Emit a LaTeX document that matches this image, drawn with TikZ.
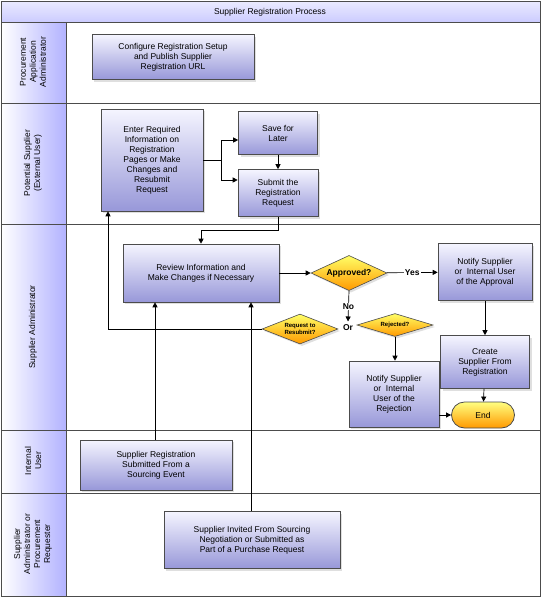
\documentclass[tikz,border=0pt]{standalone}
\usepackage{fontspec}
\setmainfont{Liberation Sans}
\usetikzlibrary{shapes.geometric,arrows.meta,shadows}

\tikzset{
  task/.style={draw=black!70, line width=0.6pt, top color=blue!4, bottom color=blue!30!white!85!black,
    align=center, font=\fontsize{8.5}{10}\selectfont, inner sep=1pt, drop shadow={opacity=0.25,shadow xshift=2pt,shadow yshift=-2pt}},
  decide/.style={diamond, draw=black!70, line width=0.6pt, top color=yellow!60, bottom color=orange!80!yellow,
    align=center, aspect=1.65, inner sep=0pt, drop shadow={opacity=0.25,shadow xshift=2pt,shadow yshift=-2pt}},
  flow/.style={-{Triangle[length=5pt,width=5pt]}, line width=0.7pt},
  lanehead/.style={draw=black!70, line width=0.6pt, left color=white, right color=blue!30},
  lanetext/.style={rotate=90, align=center, font=\fontsize{8.5}{10}\selectfont}
}

\begin{document}
\begin{tikzpicture}[x=1pt,y=-1pt]
\useasboundingbox (0,0) rectangle (542,598);
% lanes
\draw[line width=0.8pt, black!70] (1,1) rectangle (540,596);
\shade[top color=blue!8, bottom color=blue!20, draw=black!70] (1,1) rectangle (540,22);
\node[font=\fontsize{8.5}{10}\selectfont] (title) at (270,12) {Supplier Registration Process};
\foreach \ya/\yb in {22/103, 103/224, 224/430, 430/493, 493/596}{
  \draw[lanehead] (1,\ya) rectangle (66,\yb);
  \draw[black!70, line width=0.6pt] (66,\yb) -- (540,\yb);
}
\node[lanetext] (l1) at (33,62) {Procurement\\Application\\Administrator};
\node[lanetext] (l2) at (33,163) {Potential Supplier\\(External User)};
\node[lanetext] (l3) at (33,327) {Supplier Administrator};
\node[lanetext] (l4) at (33,461) {Internal\\User};
\node[lanetext] (l5) at (33,544) {Supplier\\Administrator or\\Procurement\\Requester};

% tasks
\node[task, minimum width=162pt, minimum height=45pt] (config) at (173,57) {Configure Registration Setup\\and Publish Supplier\\Registration URL};
\node[task, minimum width=102pt, minimum height=102pt] (enter) at (152,160) {Enter Required\\Information on\\Registration\\Pages or Make\\Changes and\\Resubmit\\Request};
\node[task, minimum width=79pt, minimum height=43pt] (save) at (278,133) {Save for\\Later};
\node[task, minimum width=80pt, minimum height=47pt] (submit) at (278,193) {Submit the\\Registration\\Request};
\node[task, minimum width=156pt, minimum height=58pt] (review) at (201,273) {Review Information and\\Make Changes if Necessary};
\node[decide, minimum width=76pt, font=\fontsize{8.5}{10}\selectfont\bfseries] (approved) at (349,273) {Approved?};
\node[task, minimum width=94pt, minimum height=57pt] (notifyok) at (485,272) {Notify Supplier\\or\ \ Internal User\\of the Approval};
\node[decide, minimum width=76pt, font=\fontsize{6}{7}\selectfont\bfseries] (resub) at (300,329) {Request to\\Resubmit?};
\node[font=\fontsize{8.5}{10}\selectfont\bfseries] (or) at (348,328) {Or};
\node[decide, minimum width=76pt, font=\fontsize{6}{7}\selectfont\bfseries] (rejected) at (395,325) {Rejected?};
\node[task, minimum width=90pt, minimum height=66pt] (notifyno) at (394,394) {Notify Supplier\\or\ \ Internal\\User of the\\Rejection};
\node[task, minimum width=89pt, minimum height=53pt] (create) at (485,362) {Create\\Supplier From\\Registration};
\node[draw=black!70, line width=0.8pt, rounded corners=13pt, top color=yellow!50, bottom color=orange!80!yellow,
  minimum width=63pt, minimum height=26pt, font=\fontsize{8.5}{10}\selectfont] (finish) at (483,415) {End};
\node[task, minimum width=152pt, minimum height=50pt] (sourcing) at (156,465) {Supplier Registration\\Submitted From a\\Sourcing Event};
\node[task, minimum width=176pt, minimum height=57pt] (invited) at (252,540) {Supplier Invited From Sourcing\\Negotiation or Submitted as\\Part of a Purchase Request};

% connectors
\coordinate (split) at (221,160);
\coordinate (upsave) at (0,140);
\coordinate (upsub) at (0,180);
\coordinate (back) at (108,0);
\coordinate (col1) at (155,0);
\coordinate (col2) at (251,0);
\draw[line width=0.7pt] (enter.east) -- (split);
\draw[flow] (split) |- (save.west |- upsave);
\draw[flow] (split) |- (submit.west |- upsub);
\draw[flow] (save) -- (submit);
\draw[flow] (submit.south) -- ++(0,14) -| (review.north);
\draw[flow] (review) -- (approved);
\draw[flow] (approved) -- node[fill=white, inner sep=1pt, font=\fontsize{8.5}{10}\selectfont\bfseries] {Yes} (notifyok);
\draw[flow] (approved.south) -- node[fill=white, inner sep=0.5pt, font=\fontsize{8.5}{10}\selectfont\bfseries] {No} (or.north);
\draw[flow] (resub.west) -| (enter.south -| back);
\draw[flow] (rejected.south) -- (notifyno.north -| rejected.south);
\draw[flow] (notifyok) -- (create);
\draw[flow] (create) -- (finish);
\draw[flow] (notifyno.east |- finish) -- (finish.west);
\draw[flow] (sourcing.north -| col1) -- (review.south -| col1);
\draw[flow] (invited.north -| col2) -- (review.south -| col2);
\end{tikzpicture}
\end{document}
